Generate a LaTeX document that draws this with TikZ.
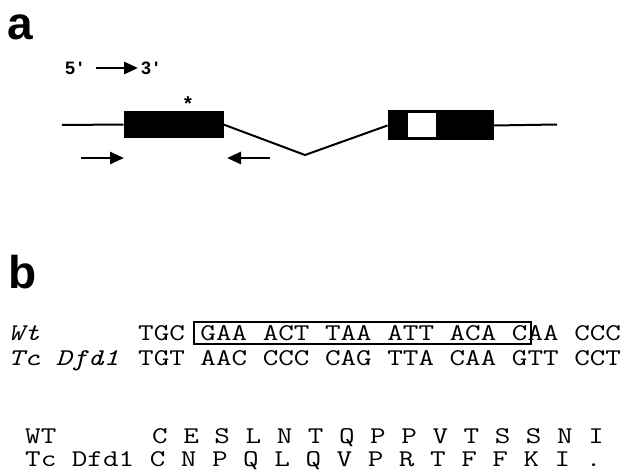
\documentclass[tikz,border=0pt]{standalone}
\usepackage{fontspec}
\newfontfamily\hfont{Liberation Sans}
\usetikzlibrary{arrows.meta}
\newcommand\stretchtt[1]{\scalebox{1.26}[1]{#1}}
\tikzset{
  panel/.style={font=\hfont\bfseries\fontsize{46}{46}\selectfont, inner sep=0pt, anchor=base west},
  dirlab/.style={font=\hfont\bfseries\fontsize{18}{18}\selectfont, inner sep=0pt, anchor=base west},
  asterisk/.style={font=\hfont\bfseries\fontsize{20}{20}\selectfont, inner sep=0pt, anchor=base},
  dirarrow/.style={line width=2.8pt, -{Triangle[length=14pt,width=12pt]}},
  primer/.style={line width=2.8pt, -{Triangle[length=14pt,width=12pt]}},
  exon/.style={draw, fill=black, line width=1pt, inner sep=0pt},
  gene/.style={line width=2pt},
  seq/.style={font=\ttfamily\fontsize{24}{28}\selectfont, inner sep=0pt, anchor=base west},
  seqlab/.style={seq, font=\ttfamily\itshape\fontsize{24}{28}\selectfont},
  markbox/.style={draw, line width=2pt, inner sep=0pt}
}
\begin{document}
\begin{tikzpicture}[x=1pt,y=-1pt]
\useasboundingbox (0,0) rectangle (630,476);
% panel a
\node[panel] (pa) at (7,40) {a};
\node[dirlab] (five) at (65,75) {5\,\textquotesingle};
\node[dirlab] (three) at (141,75) {3\,\textquotesingle};
\coordinate (dirA) at (96,68);
\coordinate (dirB) at (138,68);
\draw[dirarrow] (dirA) -- (dirB);
\node[asterisk] (star) at (188,111) {*};
\node[exon, minimum width=99pt, minimum height=25.6pt] (ex1) at (173.5,124.5) {};
\node[exon, minimum width=105pt, minimum height=29pt] (ex2) at (440.5,125.5) {};
\node[fill=white, inner sep=0pt, minimum width=28pt, minimum height=24pt] (utr) at (422,125) {};
\coordinate (lend) at (62,125);
\coordinate (vtx) at (305,155);
\coordinate (rend) at (557,124.5);
\draw[gene] (lend) -- (ex1.west);
\draw[gene] (ex1.east) -- (vtx) -- (ex2.west);
\draw[gene] (ex2.east) -- (rend);
\coordinate (p1a) at (81,158);
\coordinate (p1b) at (124,158);
\coordinate (p2a) at (270,158);
\coordinate (p2b) at (227,158);
\draw[primer] (p1a) -- (p1b);
\draw[primer] (p2a) -- (p2b);
% panel b
\node[panel] (pb) at (8,288) {b};
\node[seqlab] (wtl) at (8,341) {\stretchtt{Wt}};
\node[seq] (wts) at (138,341) {\stretchtt{TGC GAA ACT TAA ATT ACA CAA CCC}};
\node[seqlab] (mul) at (8,365) {\stretchtt{Tc Dfd1}};
\node[seq] (mus) at (138,365) {\stretchtt{TGT AAC CCC CAG TTA CAA GTT CCT}};
\node[markbox, minimum width=337pt, minimum height=22pt] (mark) at (362.5,333) {};
\node[seq] (wtp) at (25,443) {\stretchtt{WT}};
\node[seq] (wtpa) at (152,443) {\stretchtt{C E S L N T Q P P V T S S N I}};
\node[seq] (mup) at (25,466) {\stretchtt{Tc Dfd1 C N P Q L Q V P R T F F K I .}};
\end{tikzpicture}
\end{document}
